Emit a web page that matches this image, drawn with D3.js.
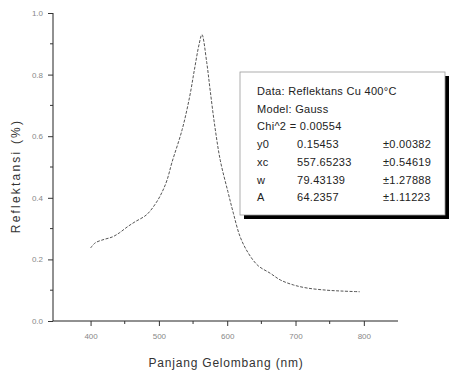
<!DOCTYPE html>
<html><head><meta charset="utf-8">
<script src="https://cdn.jsdelivr.net/npm/d3@7"></script>
<style>
html,body{margin:0;padding:0;background:#fff;}
svg{display:block;font-family:"Liberation Sans",Arial,sans-serif;}
</style></head>
<body><svg id="c" width="450" height="377"></svg>
<script>
const wavelength = [400,407,420,432,442,454,465,482,496,505,512,519,534,545,552,559,563,570,575,582,590,601,609,619,631,645,663,678,697,717,746,770,794];
const reflectance = [0.237,0.254,0.265,0.273,0.286,0.306,0.322,0.345,0.384,0.42,0.458,0.514,0.621,0.728,0.816,0.90,0.93,0.84,0.75,0.63,0.52,0.42,0.35,0.273,0.22,0.18,0.155,0.133,0.117,0.107,0.10,0.097,0.095];
const xTicks = [400,500,600,700,800];
const xMinor = [450,550,650,750];
const yTicks = [0.0,0.2,0.4,0.6,0.8,1.0];
const yMinor = [0.1,0.3,0.5,0.7,0.9];
const legendHead = ["Data: Reflektans Cu 400°C","Model: Gauss","Chi^2 = 0.00554"];
const paramNames = ["y0","xc","w","A"];
const paramValues = ["0.15453","557.65233","79.43139","64.2357"];
const paramErrors = ["±0.00382","±0.54619","±1.27888","±1.11223"];

const svg = d3.select("#c");
const x = d3.scaleLinear().domain([345,850]).range([53,398]);
const y = d3.scaleLinear().domain([0,1.0]).range([321,13]);

// axes
const xAxis = d3.axisBottom(x).tickValues(xTicks).tickSize(5).tickPadding(7).tickFormat(d3.format("d"));
const gx = svg.append("g").attr("transform","translate(0,321)").call(xAxis);
gx.selectAll("line").attr("stroke","#333");
gx.select(".domain").attr("stroke","#222").attr("d","M53,0H398");
gx.selectAll("text").attr("fill","#888").attr("font-size",8);
gx.selectAll(".minor").data(xMinor).enter().append("line")
  .attr("x1",d=>x(d)).attr("x2",d=>x(d)).attr("y1",0).attr("y2",3).attr("stroke","#333");

const yAxis = d3.axisLeft(y).tickValues(yTicks).tickSize(5).tickPadding(5).tickFormat(d3.format(".1f"));
const gy = svg.append("g").attr("transform","translate(53,0)").call(yAxis);
gy.selectAll("line").attr("stroke","#333");
gy.select(".domain").attr("stroke","#222").attr("d","M0,321V13");
gy.selectAll("text").attr("fill","#888").attr("font-size",8);
gy.selectAll(".minor").data(yMinor).enter().append("line")
  .attr("x1",0).attr("x2",-3).attr("y1",d=>y(d)).attr("y2",d=>y(d)).attr("stroke","#333");

// curve
const line = d3.line().x((d,i)=>x(wavelength[i])).y(d=>y(d)).curve(d3.curveCatmullRom);
svg.append("path").datum(reflectance).attr("d",line)
  .attr("fill","none").attr("stroke","#555").attr("stroke-width",1).attr("stroke-dasharray","3,1.5");

// axis titles
svg.append("text").attr("x",226).attr("y",367).attr("text-anchor","middle")
  .attr("font-size",12).attr("fill","#333").attr("letter-spacing",0.8).text("Panjang Gelombang (nm)");
svg.append("text").attr("transform","translate(20,176) rotate(-90)").attr("text-anchor","middle")
  .attr("font-size",12).attr("fill","#333").attr("letter-spacing",2.2).text("Reflektansi (%)");

// legend box
const bx=240, by=72, bw=205, bh=143;
svg.append("rect").attr("x",bx+4).attr("y",by+4).attr("width",bw).attr("height",bh).attr("fill","#000");
svg.append("rect").attr("x",bx).attr("y",by).attr("width",bw).attr("height",bh).attr("fill","#fff")
  .attr("stroke","#999").attr("stroke-width",0.8);
const lg = svg.append("g").attr("font-size",11).attr("letter-spacing",0.3).attr("fill","#222");
legendHead.forEach((t,i)=>{
  lg.append("text").attr("x",257).attr("y",95+i*17.7).text(t);
});
paramNames.forEach((t,i)=>{
  const yy = 95+(i+3)*17.7;
  lg.append("text").attr("x",257).attr("y",yy).text(t);
  lg.append("text").attr("x",297).attr("y",yy).text(paramValues[i]);
  lg.append("text").attr("x",383).attr("y",yy).text(paramErrors[i]);
});
</script></body></html>
